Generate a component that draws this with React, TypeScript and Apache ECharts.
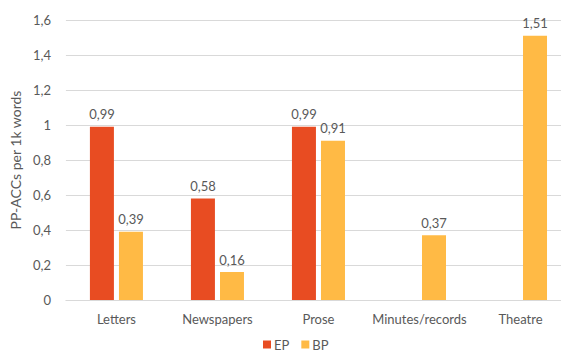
import React, { useEffect, useRef } from "react";
import * as echarts from "echarts";

const categories = ["Letters", "Newspapers", "Prose", "Minutes/records", "Theatre"];
const epValues: (number | null)[] = [0.99, 0.58, 0.99, null, null];
const bpValues: (number | null)[] = [0.39, 0.16, 0.91, 0.37, 1.51];
const yTicks = { min: 0, max: 1.6, interval: 0.2 };

const fmt = (v: number) => String(Math.round(v * 100) / 100).replace(".", ",");
const FONT = "Lato";
const TXT = "#595959";

export default function App() {
  const ref = useRef<HTMLDivElement>(null);
  useEffect(() => {
    if (!ref.current) return;
    const chart = echarts.init(ref.current, undefined, { renderer: "svg" });
    const labelCfg = {
      show: true,
      position: "top" as const,
      distance: 6,
      color: TXT,
      fontFamily: FONT,
      fontSize: 13,
      formatter: (p: any) => fmt(p.value),
    };
    chart.setOption({
      animation: false,
      textStyle: { fontFamily: FONT },
      grid: { left: 63.5, top: 20, bottom: 58, right: 0, containLabel: false },
      legend: {
        bottom: 2,
        left: 258,
        data: ["EP", "BP"],
        itemWidth: 8,
        itemHeight: 8,
        itemGap: 12,
        icon: "rect",
        textStyle: { color: TXT, fontFamily: FONT, fontSize: 13, padding: [0, 0, 0, -2] },
      },
      xAxis: {
        type: "category",
        data: categories,
        axisLine: { lineStyle: { color: "#D9D9D9" } },
        axisTick: { show: false },
        axisLabel: { color: TXT, fontFamily: FONT, fontSize: 13, margin: 12, interval: 0 },
      },
      yAxis: {
        type: "value",
        min: yTicks.min,
        max: yTicks.max,
        interval: yTicks.interval,
        name: "PP-ACCs per 1k words",
        nameLocation: "middle",
        nameGap: 37,
        nameTextStyle: { color: TXT, fontFamily: FONT, fontSize: 14 },
        axisLine: { show: false },
        axisTick: { show: false },
        axisLabel: { color: TXT, fontFamily: FONT, fontSize: 13, margin: 15, formatter: (v: number) => fmt(v) },
        splitLine: { lineStyle: { color: "#D9D9D9" } },
      },
      series: [
        {
          name: "EP",
          type: "bar",
          data: epValues,
          barWidth: 24,
          barGap: "21%",
          itemStyle: { color: "#E84C22" },
          label: labelCfg,
        },
        {
          name: "BP",
          type: "bar",
          data: bpValues,
          barWidth: 24,
          itemStyle: { color: "#FFBA45" },
          label: labelCfg,
        },
      ],
    });
    return () => chart.dispose();
  }, []);
  return (
    <div style={{ width: 561, height: 358, position: "absolute", left: 0, top: 0, overflow: "hidden" }}>
      <div ref={ref} style={{ width: 571, height: 358 }} />
    </div>
  );
}
